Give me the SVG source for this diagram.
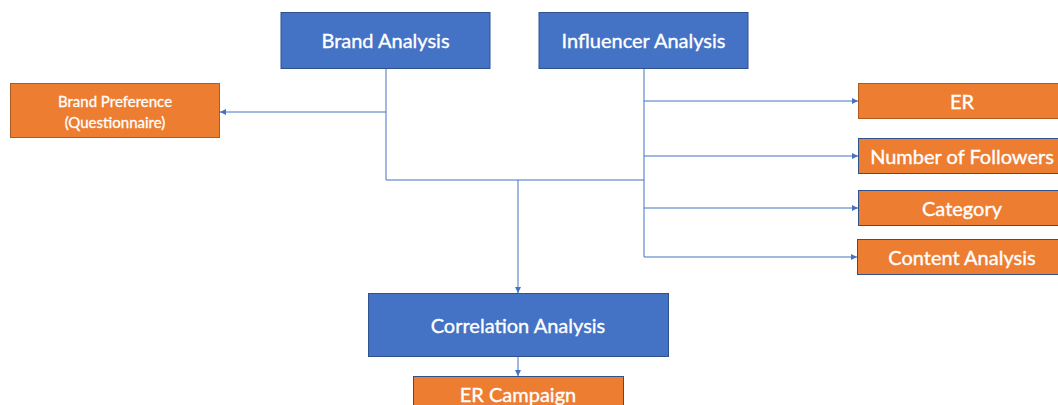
<svg xmlns="http://www.w3.org/2000/svg" width="1058" height="405" viewBox="0 0 1058 405">
  <style>
    .blue { fill: #4472C4; stroke: #2F528F; stroke-width: 1; }
    .orange { fill: #ED7D31; stroke: #AE5A21; stroke-width: 1; }
    .orange-b { fill: #ED7D31; stroke: #2F528F; stroke-width: 1; }
    .label { font-family: Lato, "Liberation Sans", sans-serif; fill: #ffffff; stroke: #ffffff; stroke-width: 0.35; text-anchor: middle; dominant-baseline: central; font-size: 20px; }
    .small { font-size: 15px; stroke-width: 0.3; }
    .conn { fill: none; stroke: #4472C4; stroke-width: 1; }
  </style>
  <defs>
    <marker id="arrow" viewBox="0 0 10 10" refX="10" refY="5" markerWidth="6" markerHeight="6" markerUnits="userSpaceOnUse" orient="auto">
      <path d="M0,0 L10,5 L0,10 Z" fill="#4472C4"/>
    </marker>
  </defs>
  <rect width="1058" height="405" fill="#ffffff"/>

  <!-- connectors: brand / influencer branches and the merge into correlation -->
  <g id="connectors">
    <path class="conn" d="M386,68 V180 H644"/>
    <path class="conn" d="M386,112 H220" marker-end="url(#arrow)"/>
    <path class="conn" d="M644,68 V257"/>
    <path class="conn" d="M644,101 H858" marker-end="url(#arrow)"/>
    <path class="conn" d="M644,156 H858" marker-end="url(#arrow)"/>
    <path class="conn" d="M644,208 H858" marker-end="url(#arrow)"/>
    <path class="conn" d="M644,257 H857" marker-end="url(#arrow)"/>
    <path class="conn" d="M518,180 V293" marker-end="url(#arrow)"/>
    <path class="conn" d="M518,357 V376" marker-end="url(#arrow)"/>
  </g>

  <g id="brand-analysis">
    <rect class="blue" x="281" y="12.5" width="209" height="56"/>
    <text class="label" x="385.5" y="40">Brand Analysis</text>
  </g>
  <g id="influencer-analysis">
    <rect class="blue" x="539" y="12.5" width="209" height="56"/>
    <text class="label" x="643.5" y="40">Influencer Analysis</text>
  </g>
  <g id="brand-preference">
    <rect class="orange" x="10.5" y="83.5" width="209" height="54"/>
    <text class="label small" x="115" y="101">Brand Preference</text>
    <text class="label small" x="115" y="122">(Questionnaire)</text>
  </g>
  <g id="er">
    <rect class="orange" x="858.5" y="83.5" width="208" height="35"/>
    <text class="label" x="962" y="100.5">ER</text>
  </g>
  <g id="number-of-followers">
    <rect class="orange-b" x="858.5" y="138.5" width="208" height="35"/>
    <text class="label" x="962" y="155.5">Number of Followers</text>
  </g>
  <g id="category">
    <rect class="orange-b" x="858.5" y="190.5" width="208" height="35"/>
    <text class="label" x="962" y="207.5">Category</text>
  </g>
  <g id="content-analysis">
    <rect class="orange-b" x="857.5" y="239.5" width="208" height="35"/>
    <text class="label" x="962" y="256.5">Content Analysis</text>
  </g>
  <g id="correlation-analysis">
    <rect class="blue" x="368.5" y="293.5" width="300" height="63"/>
    <text class="label" x="518" y="324.5">Correlation Analysis</text>
  </g>
  <g id="er-campaign">
    <rect class="orange-b" x="413.5" y="376.5" width="210" height="40"/>
    <text class="label" x="518" y="393.5">ER Campaign</text>
  </g>
</svg>
